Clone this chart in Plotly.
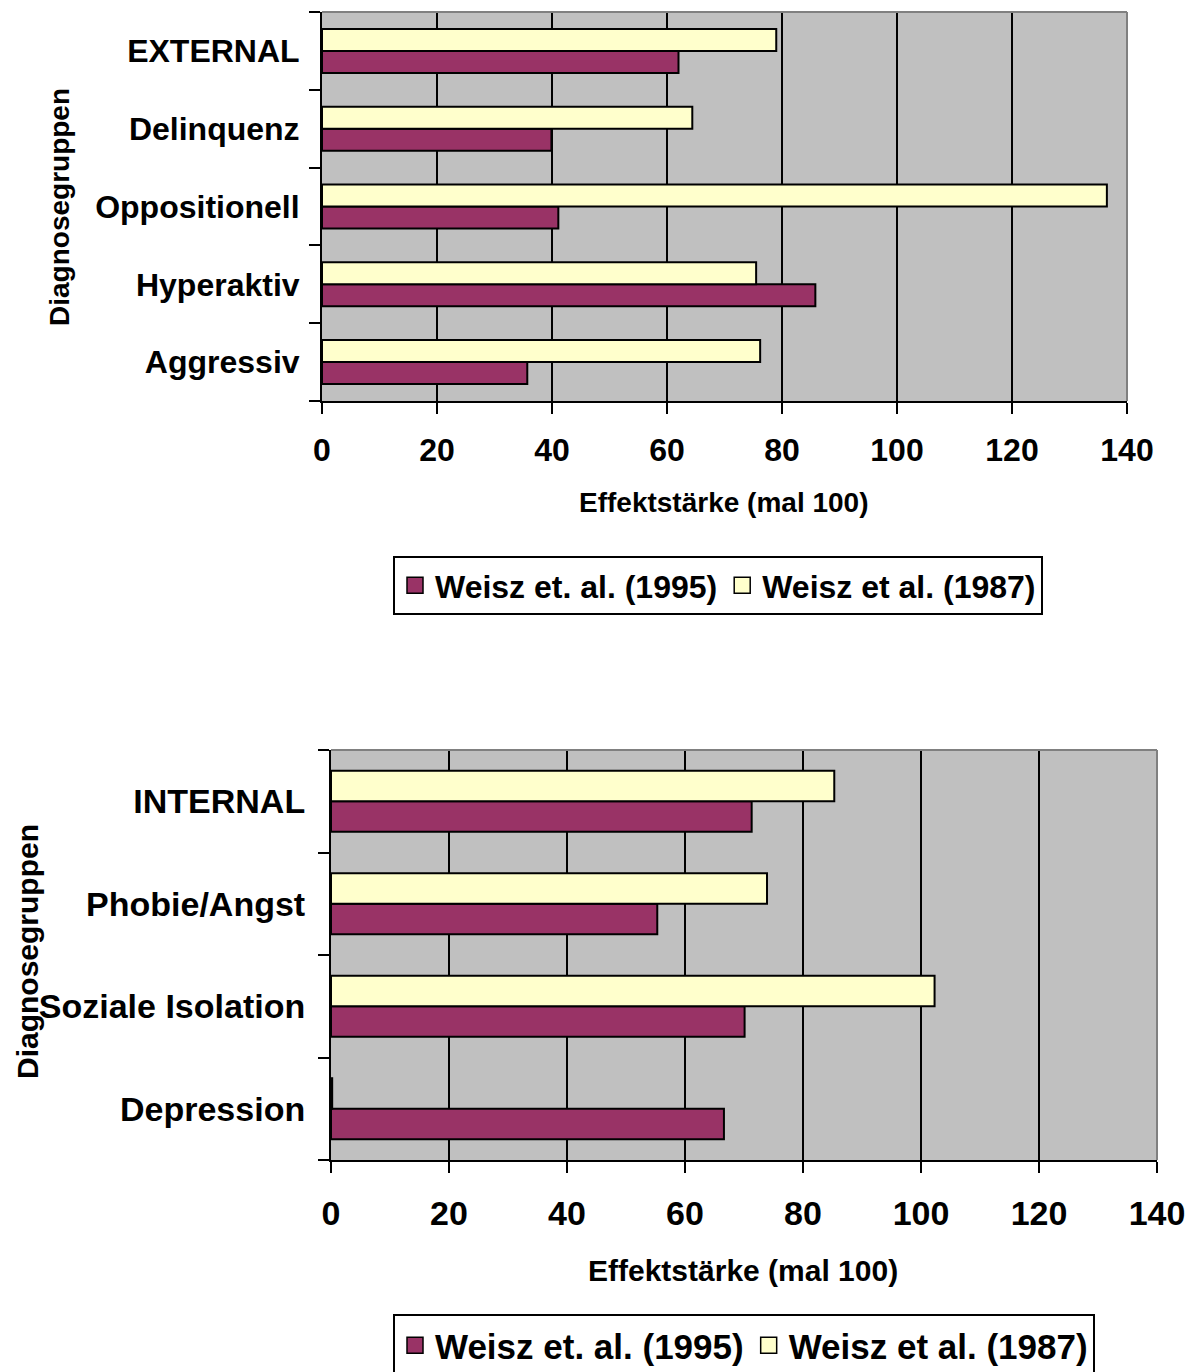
import plotly.graph_objects as go

# Externalizing disorders (listed bottom to top)
ext_groups = ["Aggressiv", "Hyperaktiv", "Oppositionell", "Delinquenz", "EXTERNAL"]
ext_1995 = [35.7, 85.8, 41.1, 39.9, 62.0]
ext_1987 = [76.2, 75.5, 136.5, 64.4, 79.0]

# Internalizing disorders (listed bottom to top)
int_groups = ["Depression", "Soziale Isolation", "Phobie/Angst", "INTERNAL"]
int_1995 = [66.6, 70.1, 55.3, 71.3]
int_1987 = [0.2, 102.3, 73.9, 85.3]

x_ticks = [0, 20, 40, 60, 80, 100, 120, 140]

label_1995 = "Weisz et. al. (1995)"
label_1987 = "Weisz et al. (1987)"
x_title = "Effektstärke (mal 100)"
y_title = "Diagnosegruppen"

C1995 = "#993366"
C1987 = "#FFFFCC"
FONT = "Liberation Sans, Arial, sans-serif"
W, H = 1197, 1372

fig = go.Figure()


def add_panel(groups, v95, v87, xa, ya, legend, bar_w):
    fig.add_trace(go.Bar(
        y=groups, x=v95, orientation="h", name=label_1995,
        marker=dict(color=C1995, line=dict(color="black", width=2)),
        width=bar_w, offset=-bar_w, xaxis=xa, yaxis=ya, showlegend=False,
    ))
    fig.add_trace(go.Bar(
        y=groups, x=v87, orientation="h", name=label_1987,
        marker=dict(color=C1987, line=dict(color="black", width=2)),
        width=bar_w, offset=0, xaxis=xa, yaxis=ya, showlegend=False,
    ))
    # legend swatches
    for name, col in ((label_1995, C1995), (label_1987, C1987)):
        fig.add_trace(go.Scatter(
            x=[None], y=[None], mode="markers", name=name,
            marker=dict(symbol="square", size=16, color=col,
                        line=dict(color="black", width=1.5)),
            xaxis=xa, yaxis=ya, legend=legend, hoverinfo="skip",
        ))


add_panel(ext_groups, ext_1995, ext_1987, "x", "y", "legend", 0.283)
add_panel(int_groups, int_1995, int_1987, "x2", "y2", "legend2", 0.298)


def xaxis_cfg(domain, anchor, size, standoff):
    return dict(
        domain=domain, anchor=anchor, range=[0, 140], tickvals=x_ticks,
        showgrid=True, gridcolor="black", gridwidth=2, zeroline=False,
        showline=True, linecolor="black", linewidth=2,
        ticks="outside", ticklen=11, tickwidth=2, tickcolor="black",
        ticklabelstandoff=standoff, automargin=False,
        tickfont=dict(family=FONT, size=size, color="black", weight="bold"),
        fixedrange=True,
    )


def yaxis_cfg(domain, anchor, size, standoff):
    return dict(
        domain=domain, anchor=anchor, type="category",
        showgrid=False, zeroline=False,
        showline=True, linecolor="black", linewidth=2,
        ticks="outside", tickson="boundaries", ticklen=11, tickwidth=2,
        tickcolor="black", ticklabelstandoff=standoff, automargin=False,
        tickfont=dict(family=FONT, size=size, color="black", weight="bold"),
        fixedrange=True,
    )


def px_x(v):
    return v / W


def px_y(v):
    return 1 - v / H


fig.update_layout(
    width=W, height=H,
    margin=dict(l=0, r=0, t=0, b=0, autoexpand=False),
    paper_bgcolor="white", plot_bgcolor="#C0C0C0",
    barmode="overlay",
    xaxis=xaxis_cfg([px_x(322), px_x(1127)], "y", 32, 9),
    yaxis=yaxis_cfg([px_y(401), px_y(12)], "x", 32, 14),
    xaxis2=xaxis_cfg([px_x(331), px_x(1157)], "y2", 34, 11),
    yaxis2=yaxis_cfg([px_y(1160), px_y(750)], "x2", 34, 17),
    legend=dict(
        orientation="h", x=px_x(393), y=px_y(556), xanchor="left", yanchor="top",
        bgcolor="white", bordercolor="black", borderwidth=2,
        font=dict(family=FONT, size=32, color="black", weight="bold"),
    ),
    legend2=dict(
        orientation="h", x=px_x(393), y=px_y(1314), xanchor="left", yanchor="top",
        bgcolor="white", bordercolor="black", borderwidth=2,
        font=dict(family=FONT, size=35, color="black", weight="bold"),
    ),
    showlegend=True,
)

# grey top and right frame of each plot area
for xr, yr in (("x", "y"), ("x2", "y2")):
    fig.add_shape(type="line", xref=f"{xr} domain", yref=f"{yr} domain",
                  x0=0, x1=1, y0=1, y1=1, line=dict(color="#808080", width=2))
    fig.add_shape(type="line", xref=f"{xr} domain", yref=f"{yr} domain",
                  x0=1, x1=1, y0=0, y1=1, line=dict(color="#808080", width=2))

# axis titles
annots = [
    (x_title, 723, 503, 0, 28),
    (y_title, 60, 207, -90, 28),
    (x_title, 743, 1270, 0, 30),
    (y_title, 27, 952, -90, 30),
]
for text, ax_px, ay_px, ang, size in annots:
    fig.add_annotation(
        text=text, x=px_x(ax_px), y=px_y(ay_px), xref="paper", yref="paper",
        xanchor="center", yanchor="middle", textangle=ang, showarrow=False,
        font=dict(family=FONT, size=size, color="black", weight="bold"),
    )

fig.write_html("out.html")
